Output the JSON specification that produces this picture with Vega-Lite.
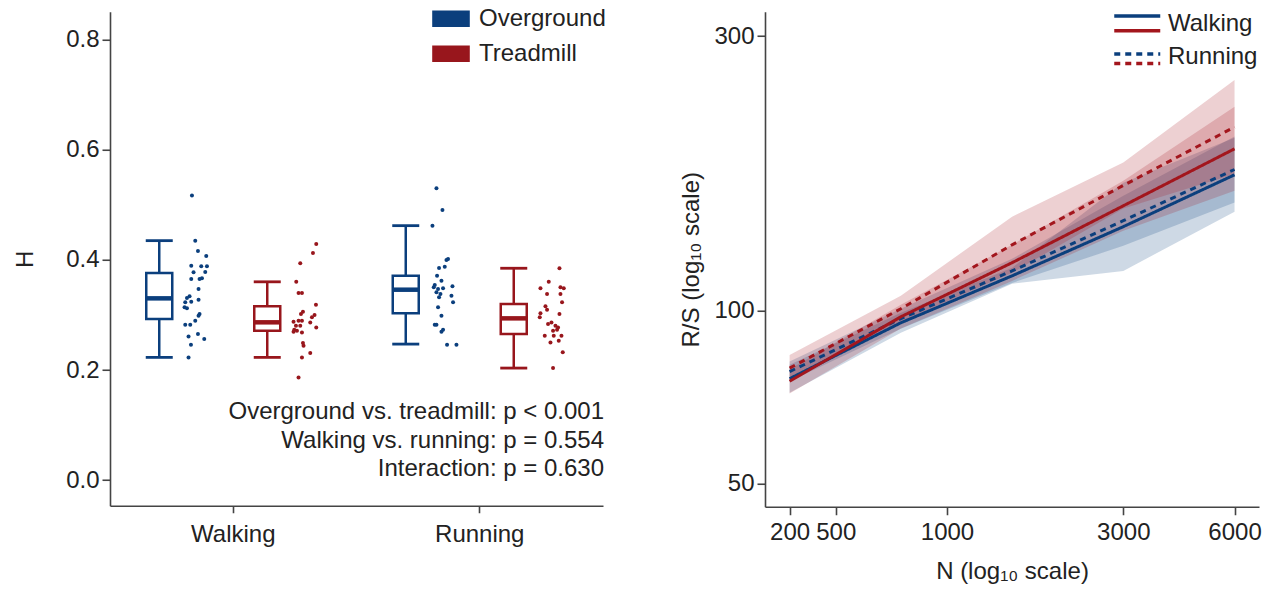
{
  "$schema": "https://vega.github.io/schema/vega-lite/v6.json",
  "padding": {"left": 13, "top": 3.75, "right": 12, "bottom": 4},
  "spacing": 75,
  "background": "white",
  "config": {
    "font": "Liberation Sans",
    "view": {"stroke": null},
    "axis": {
      "labelFont": "Liberation Sans", "labelFontSize": 24, "labelColor": "#222222",
      "titleFont": "Liberation Sans", "titleFontSize": 24, "titleFontWeight": "normal", "titleColor": "#222222",
      "domainColor": "#444444", "domainWidth": 1.6, "tickColor": "#444444", "tickWidth": 1.6, "tickSize": 8,
      "grid": false, "labelPadding": 3
    },
    "legend": {"labelFont": "Liberation Sans", "labelFontSize": 24, "labelColor": "#222222"}
  },
  "datasets": {
    "boxes": [
      {"activity": "Walking", "surface": "Overground", "lo": 0.2229, "q1": 0.2925, "med": 0.330, "q3": 0.376, "hi": 0.4347},
      {"activity": "Walking", "surface": "Treadmill", "lo": 0.2229, "q1": 0.2712, "med": 0.2865, "q3": 0.3155, "hi": 0.360},
      {"activity": "Running", "surface": "Overground", "lo": 0.247, "q1": 0.3028, "med": 0.3457, "q3": 0.3711, "hi": 0.4619},
      {"activity": "Running", "surface": "Treadmill", "lo": 0.2035, "q1": 0.2652, "med": 0.2937, "q3": 0.3197, "hi": 0.3846}
    ],
    "dots": [
      {"activity": "Walking", "surface": "Overground", "h": 0.5165, "jitter": -4.3},
      {"activity": "Walking", "surface": "Overground", "h": 0.4347, "jitter": -1},
      {"activity": "Walking", "surface": "Overground", "h": 0.416, "jitter": 1.7},
      {"activity": "Walking", "surface": "Overground", "h": 0.4069, "jitter": 10},
      {"activity": "Walking", "surface": "Overground", "h": 0.3893, "jitter": -5},
      {"activity": "Walking", "surface": "Overground", "h": 0.3881, "jitter": 5},
      {"activity": "Walking", "surface": "Overground", "h": 0.3881, "jitter": 10.7},
      {"activity": "Walking", "surface": "Overground", "h": 0.3778, "jitter": 9},
      {"activity": "Walking", "surface": "Overground", "h": 0.3772, "jitter": -2.7},
      {"activity": "Walking", "surface": "Overground", "h": 0.3651, "jitter": -5},
      {"activity": "Walking", "surface": "Overground", "h": 0.3651, "jitter": 3.3},
      {"activity": "Walking", "surface": "Overground", "h": 0.3663, "jitter": 5.7},
      {"activity": "Walking", "surface": "Overground", "h": 0.347, "jitter": 2.3},
      {"activity": "Walking", "surface": "Overground", "h": 0.3337, "jitter": -6.7},
      {"activity": "Walking", "surface": "Overground", "h": 0.3306, "jitter": -9.3},
      {"activity": "Walking", "surface": "Overground", "h": 0.3276, "jitter": 2.3},
      {"activity": "Walking", "surface": "Overground", "h": 0.3228, "jitter": -11},
      {"activity": "Walking", "surface": "Overground", "h": 0.324, "jitter": -5},
      {"activity": "Walking", "surface": "Overground", "h": 0.3137, "jitter": -11.7},
      {"activity": "Walking", "surface": "Overground", "h": 0.3119, "jitter": -9.3},
      {"activity": "Walking", "surface": "Overground", "h": 0.3015, "jitter": 3.3},
      {"activity": "Walking", "surface": "Overground", "h": 0.2985, "jitter": 2.3},
      {"activity": "Walking", "surface": "Overground", "h": 0.2894, "jitter": -1},
      {"activity": "Walking", "surface": "Overground", "h": 0.2822, "jitter": -11},
      {"activity": "Walking", "surface": "Overground", "h": 0.2822, "jitter": -6},
      {"activity": "Walking", "surface": "Overground", "h": 0.2652, "jitter": 1.7},
      {"activity": "Walking", "surface": "Overground", "h": 0.261, "jitter": -7.7},
      {"activity": "Walking", "surface": "Overground", "h": 0.2561, "jitter": 8},
      {"activity": "Walking", "surface": "Overground", "h": 0.2458, "jitter": -5.3},
      {"activity": "Walking", "surface": "Overground", "h": 0.2229, "jitter": -7.7},
      {"activity": "Walking", "surface": "Treadmill", "h": 0.4287, "jitter": 12},
      {"activity": "Walking", "surface": "Treadmill", "h": 0.4124, "jitter": 8.7},
      {"activity": "Walking", "surface": "Treadmill", "h": 0.3936, "jitter": -4},
      {"activity": "Walking", "surface": "Treadmill", "h": 0.3603, "jitter": -8},
      {"activity": "Walking", "surface": "Treadmill", "h": 0.3397, "jitter": -5.7},
      {"activity": "Walking", "surface": "Treadmill", "h": 0.3397, "jitter": -2.3},
      {"activity": "Walking", "surface": "Treadmill", "h": 0.3185, "jitter": 11.7},
      {"activity": "Walking", "surface": "Treadmill", "h": 0.3058, "jitter": -1.3},
      {"activity": "Walking", "surface": "Treadmill", "h": 0.3015, "jitter": -3.3},
      {"activity": "Walking", "surface": "Treadmill", "h": 0.2997, "jitter": 10.3},
      {"activity": "Walking", "surface": "Treadmill", "h": 0.2955, "jitter": 7.7},
      {"activity": "Walking", "surface": "Treadmill", "h": 0.2876, "jitter": -10.7},
      {"activity": "Walking", "surface": "Treadmill", "h": 0.2894, "jitter": -5.7},
      {"activity": "Walking", "surface": "Treadmill", "h": 0.2894, "jitter": -2.3},
      {"activity": "Walking", "surface": "Treadmill", "h": 0.2864, "jitter": 6},
      {"activity": "Walking", "surface": "Treadmill", "h": 0.2803, "jitter": -8.3},
      {"activity": "Walking", "surface": "Treadmill", "h": 0.2803, "jitter": -4},
      {"activity": "Walking", "surface": "Treadmill", "h": 0.2773, "jitter": 12},
      {"activity": "Walking", "surface": "Treadmill", "h": 0.273, "jitter": -10},
      {"activity": "Walking", "surface": "Treadmill", "h": 0.2712, "jitter": -7.3},
      {"activity": "Walking", "surface": "Treadmill", "h": 0.2694, "jitter": -10.7},
      {"activity": "Walking", "surface": "Treadmill", "h": 0.2682, "jitter": -2.3},
      {"activity": "Walking", "surface": "Treadmill", "h": 0.2489, "jitter": -1.3},
      {"activity": "Walking", "surface": "Treadmill", "h": 0.244, "jitter": -0.7},
      {"activity": "Walking", "surface": "Treadmill", "h": 0.2307, "jitter": 6},
      {"activity": "Walking", "surface": "Treadmill", "h": 0.2229, "jitter": -2.3},
      {"activity": "Walking", "surface": "Treadmill", "h": 0.1865, "jitter": -5.7},
      {"activity": "Running", "surface": "Overground", "h": 0.5299, "jitter": -6.3},
      {"activity": "Running", "surface": "Overground", "h": 0.4905, "jitter": -0.3},
      {"activity": "Running", "surface": "Overground", "h": 0.4619, "jitter": -10.3},
      {"activity": "Running", "surface": "Overground", "h": 0.4015, "jitter": 5.3},
      {"activity": "Running", "surface": "Overground", "h": 0.3996, "jitter": 3.7},
      {"activity": "Running", "surface": "Overground", "h": 0.3851, "jitter": -3.7},
      {"activity": "Running", "surface": "Overground", "h": 0.3875, "jitter": 2},
      {"activity": "Running", "surface": "Overground", "h": 0.3711, "jitter": -5.7},
      {"activity": "Running", "surface": "Overground", "h": 0.362, "jitter": -1.3},
      {"activity": "Running", "surface": "Overground", "h": 0.3542, "jitter": -8},
      {"activity": "Running", "surface": "Overground", "h": 0.35, "jitter": -9},
      {"activity": "Running", "surface": "Overground", "h": 0.347, "jitter": -4.7},
      {"activity": "Running", "surface": "Overground", "h": 0.3482, "jitter": 0.3},
      {"activity": "Running", "surface": "Overground", "h": 0.3518, "jitter": 9.7},
      {"activity": "Running", "surface": "Overground", "h": 0.341, "jitter": -6.3},
      {"activity": "Running", "surface": "Overground", "h": 0.3379, "jitter": -2.3},
      {"activity": "Running", "surface": "Overground", "h": 0.3318, "jitter": -3.7},
      {"activity": "Running", "surface": "Overground", "h": 0.3348, "jitter": 8.7},
      {"activity": "Running", "surface": "Overground", "h": 0.3228, "jitter": 10.3},
      {"activity": "Running", "surface": "Overground", "h": 0.3137, "jitter": -4.7},
      {"activity": "Running", "surface": "Overground", "h": 0.2985, "jitter": -1.3},
      {"activity": "Running", "surface": "Overground", "h": 0.2822, "jitter": -8},
      {"activity": "Running", "surface": "Overground", "h": 0.2822, "jitter": -6.3},
      {"activity": "Running", "surface": "Overground", "h": 0.273, "jitter": 0.3},
      {"activity": "Running", "surface": "Overground", "h": 0.2694, "jitter": -1.3},
      {"activity": "Running", "surface": "Overground", "h": 0.2458, "jitter": 4.3},
      {"activity": "Running", "surface": "Overground", "h": 0.2458, "jitter": 13.7},
      {"activity": "Running", "surface": "Treadmill", "h": 0.3846, "jitter": 8.7},
      {"activity": "Running", "surface": "Treadmill", "h": 0.3603, "jitter": -2},
      {"activity": "Running", "surface": "Treadmill", "h": 0.3482, "jitter": -10.3},
      {"activity": "Running", "surface": "Treadmill", "h": 0.35, "jitter": 9.7},
      {"activity": "Running", "surface": "Treadmill", "h": 0.3482, "jitter": 13},
      {"activity": "Running", "surface": "Treadmill", "h": 0.3379, "jitter": -3.7},
      {"activity": "Running", "surface": "Treadmill", "h": 0.3379, "jitter": 9.7},
      {"activity": "Running", "surface": "Treadmill", "h": 0.3228, "jitter": 11.3},
      {"activity": "Running", "surface": "Treadmill", "h": 0.3155, "jitter": -5.3},
      {"activity": "Running", "surface": "Treadmill", "h": 0.3094, "jitter": -3.7},
      {"activity": "Running", "surface": "Treadmill", "h": 0.3028, "jitter": -10.3},
      {"activity": "Running", "surface": "Treadmill", "h": 0.2955, "jitter": -11},
      {"activity": "Running", "surface": "Treadmill", "h": 0.3015, "jitter": 8.7},
      {"activity": "Running", "surface": "Treadmill", "h": 0.2864, "jitter": 0.7},
      {"activity": "Running", "surface": "Treadmill", "h": 0.2834, "jitter": -2.7},
      {"activity": "Running", "surface": "Treadmill", "h": 0.2803, "jitter": 4.7},
      {"activity": "Running", "surface": "Treadmill", "h": 0.2773, "jitter": 7.3},
      {"activity": "Running", "surface": "Treadmill", "h": 0.2712, "jitter": 2.3},
      {"activity": "Running", "surface": "Treadmill", "h": 0.273, "jitter": 6.3},
      {"activity": "Running", "surface": "Treadmill", "h": 0.2621, "jitter": -6},
      {"activity": "Running", "surface": "Treadmill", "h": 0.2621, "jitter": 3},
      {"activity": "Running", "surface": "Treadmill", "h": 0.2621, "jitter": 10.7},
      {"activity": "Running", "surface": "Treadmill", "h": 0.253, "jitter": 8},
      {"activity": "Running", "surface": "Treadmill", "h": 0.2501, "jitter": -0.3},
      {"activity": "Running", "surface": "Treadmill", "h": 0.232, "jitter": 12},
      {"activity": "Running", "surface": "Treadmill", "h": 0.2035, "jitter": 2.3}
    ],
    "rs": [
      {"surface": "Overground", "activity": "Walking", "N": 375, "rs": 76.2, "lo": 72.0, "hi": 80.6},
      {"surface": "Overground", "activity": "Walking", "N": 750, "rs": 95.3, "lo": 91.6, "hi": 99.2},
      {"surface": "Overground", "activity": "Walking", "N": 1500, "rs": 115.0, "lo": 111.4, "hi": 118.8},
      {"surface": "Overground", "activity": "Walking", "N": 3000, "rs": 140.0, "lo": 117.3, "hi": 166.9},
      {"surface": "Overground", "activity": "Walking", "N": 6000, "rs": 172.3, "lo": 148.6, "hi": 199.8},
      {"surface": "Overground", "activity": "Running", "N": 375, "rs": 78.4, "lo": 75.4, "hi": 81.6},
      {"surface": "Overground", "activity": "Running", "N": 750, "rs": 96.9, "lo": 93.05, "hi": 100.8},
      {"surface": "Overground", "activity": "Running", "N": 1500, "rs": 117.3, "lo": 111.8, "hi": 123.1},
      {"surface": "Overground", "activity": "Running", "N": 3000, "rs": 143.4, "lo": 129.7, "hi": 158.4},
      {"surface": "Overground", "activity": "Running", "N": 6000, "rs": 176.0, "lo": 154.2, "hi": 200.9},
      {"surface": "Treadmill", "activity": "Walking", "N": 375, "rs": 75.4, "lo": 71.8, "hi": 79.1},
      {"surface": "Treadmill", "activity": "Walking", "N": 750, "rs": 97.6, "lo": 93.1, "hi": 102.4},
      {"surface": "Treadmill", "activity": "Walking", "N": 1500, "rs": 121.2, "lo": 112.7, "hi": 130.2},
      {"surface": "Treadmill", "activity": "Walking", "N": 3000, "rs": 152.2, "lo": 137.7, "hi": 168.2},
      {"surface": "Treadmill", "activity": "Walking", "N": 6000, "rs": 191.2, "lo": 161.6, "hi": 226.2},
      {"surface": "Treadmill", "activity": "Running", "N": 375, "rs": 79.5, "lo": 75.5, "hi": 83.8},
      {"surface": "Treadmill", "activity": "Running", "N": 750, "rs": 100.8, "lo": 95.7, "hi": 106.2},
      {"surface": "Treadmill", "activity": "Running", "N": 1500, "rs": 130.2, "lo": 116.4, "hi": 145.7},
      {"surface": "Treadmill", "activity": "Running", "N": 3000, "rs": 165.1, "lo": 150.6, "hi": 181.0},
      {"surface": "Treadmill", "activity": "Running", "N": 6000, "rs": 208.6, "lo": 172.8, "hi": 251.7}
    ]
  },
  "hconcat": [
    {
      "width": 493,
      "height": 494,
      "encoding": {
        "x": {"field": "activity", "type": "nominal",
              "scale": {"domain": ["Walking", "Running"], "paddingInner": 0, "paddingOuter": 0},
              "axis": {"title": null, "labelAngle": 0, "tickSize": 7, "labelPadding": 10}},
        "y": {"type": "quantitative",
              "scale": {"domain": [-0.0463, 0.85], "nice": false, "zero": false},
              "axis": {"values": [0, 0.2, 0.4, 0.6, 0.8], "format": ".1f", "title": "H", "titlePadding": 28}}
      },
      "layer": [
        {
          "data": {"name": "dots"},
          "mark": {"type": "circle", "size": 16, "opacity": 1,
                   "xOffset": {"expr": "(datum.surface === 'Overground' ? -37 : 71) + datum.jitter"}},
          "encoding": {
            "y": {"field": "h", "type": "quantitative"},
            "color": {"field": "surface", "type": "nominal",
                      "scale": {"domain": ["Overground", "Treadmill"], "range": ["#0b3f7d", "#98161c"]},
                      "legend": {"orient": "none", "legendX": 328, "legendY": -6, "title": null,
                                 "symbolType": "M-1.5,-0.66H1.5V0.66H-1.5Z", "symbolSize": 628,
                                 "symbolStrokeWidth": 0, "symbolOpacity": 1, "labelOffset": 15, "rowPadding": 10}}
          }
        },
        {
          "data": {"name": "boxes"},
          "mark": {"type": "rule", "strokeWidth": 2.5, "xOffset": {"expr": "datum.surface === 'Overground' ? -74 : 34"}},
          "encoding": {
            "y": {"field": "lo", "type": "quantitative"},
            "y2": {"field": "q1"},
            "color": {"field": "surface", "type": "nominal"}
          }
        },
        {
          "data": {"name": "boxes"},
          "mark": {"type": "rule", "strokeWidth": 2.5, "xOffset": {"expr": "datum.surface === 'Overground' ? -74 : 34"}},
          "encoding": {
            "y": {"field": "q3", "type": "quantitative"},
            "y2": {"field": "hi"},
            "color": {"field": "surface", "type": "nominal"}
          }
        },
        {
          "data": {"name": "boxes"},
          "mark": {"type": "bar", "width": 26, "filled": false, "strokeWidth": 2.5, "opacity": 1,
                   "xOffset": {"expr": "datum.surface === 'Overground' ? -74 : 34"}},
          "encoding": {
            "y": {"field": "q1", "type": "quantitative"},
            "y2": {"field": "q3"},
            "color": {"field": "surface", "type": "nominal"}
          }
        },
        {
          "data": {"name": "boxes"},
          "mark": {"type": "tick", "size": 26, "thickness": 4.5, "opacity": 1,
                   "xOffset": {"expr": "datum.surface === 'Overground' ? -74 : 34"}},
          "encoding": {
            "y": {"field": "med", "type": "quantitative"},
            "color": {"field": "surface", "type": "nominal"}
          }
        },
        {
          "data": {"name": "boxes"},
          "mark": {"type": "tick", "size": 27, "thickness": 2.8, "opacity": 1,
                   "xOffset": {"expr": "datum.surface === 'Overground' ? -74 : 34"}},
          "encoding": {
            "y": {"field": "lo", "type": "quantitative"},
            "color": {"field": "surface", "type": "nominal"}
          }
        },
        {
          "data": {"name": "boxes"},
          "mark": {"type": "tick", "size": 27, "thickness": 2.8, "opacity": 1,
                   "xOffset": {"expr": "datum.surface === 'Overground' ? -74 : 34"}},
          "encoding": {
            "y": {"field": "hi", "type": "quantitative"},
            "color": {"field": "surface", "type": "nominal"}
          }
        },
        {
          "data": {"values": [{}]},
          "mark": {"type": "text", "align": "right", "baseline": "middle", "fontSize": 24, "lineHeight": 28.5, "dx": 1, "color": "#222222"},
          "encoding": {
            "x": {"value": "width"},
            "y": {"datum": 0.1235, "type": "quantitative"},
            "text": {"value": ["Overground vs. treadmill: p < 0.001", "Walking vs. running: p = 0.554", "Interaction: p = 0.630"]}
          }
        }
      ]
    },
    {
      "width": 494,
      "height": 495,
      "data": {"name": "rs"},
      "encoding": {
        "x": {"field": "N", "type": "quantitative",
              "scale": {"type": "log", "domain": [321.7, 6988], "nice": false},
              "axis": {"values": [375, 500, 1000, 3000, 6000],
                       "labelExpr": "datum.value == 375 ? '200' : format(datum.value, 'd')",
                       "title": "N (log₁₀ scale)", "labelOverlap": false, "labelFlush": false,
                       "tickSize": 8, "labelPadding": 6, "titlePadding": 15}}
      },
      "layer": [
        {
          "mark": {"type": "area", "opacity": 0.2},
          "encoding": {
            "y": {"field": "lo", "type": "quantitative",
                  "scale": {"type": "log", "domain": [45.64, 330.9], "nice": false},
                  "axis": {"values": [50, 100, 300], "format": "d", "title": "R/S (log₁₀ scale)", "titlePadding": 10}},
            "y2": {"field": "hi"},
            "fill": {"field": "surface", "type": "nominal",
                     "scale": {"domain": ["Overground", "Treadmill"], "range": ["#0b3f7d", "#a3161d"]}, "legend": null},
            "detail": {"field": "activity"}
          }
        },
        {
          "transform": [{"filter": "datum.surface === 'Overground'"}],
          "mark": {"type": "line", "color": "#0b3f7d", "strokeWidth": 3},
          "encoding": {
            "y": {"field": "rs", "type": "quantitative"},
            "strokeDash": {"field": "activity", "type": "nominal",
                           "scale": {"domain": ["Walking", "Running"], "range": [[1, 0], [6, 5]]},
                           "legend": {"orient": "none", "legendX": 360.25, "legendY": -7.75, "title": null,
                                      "symbolType": "M-4,0H4", "symbolSize": 132.25, "symbolStrokeWidth": 3.5,
                                      "symbolStrokeColor": "#0b3f7d", "labelExpr": "''", "rowPadding": 14}}
          }
        },
        {
          "transform": [{"filter": "datum.surface === 'Treadmill'"}],
          "mark": {"type": "line", "color": "#a3161d", "strokeWidth": 3},
          "encoding": {
            "y": {"field": "rs", "type": "quantitative"},
            "strokeDash": {"field": "activity", "type": "nominal",
                           "scale": {"domain": ["Walking", "Running"], "range": [[1, 0], [6, 5]]},
                           "legend": {"orient": "none", "legendX": 360.25, "legendY": 7, "title": null,
                                      "symbolType": "M-4,0H4", "symbolSize": 132.25, "symbolStrokeWidth": 3.5,
                                      "symbolStrokeColor": "#a3161d", "labelOffset": 18.75, "rowPadding": 6.8,
                                      "labelBaseline": "alphabetic"}}
          }
        }
      ],
      "resolve": {"scale": {"strokeDash": "independent"}, "legend": {"strokeDash": "independent"}}
    }
  ]
}
